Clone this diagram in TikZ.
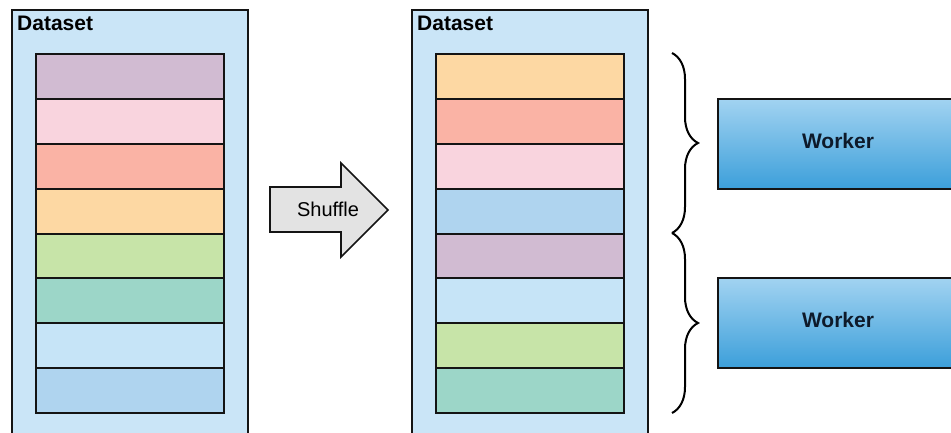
\documentclass[tikz,border=0pt]{standalone}
\usepackage{fontspec}
\setmainfont{Liberation Sans}
\usetikzlibrary{decorations.pathreplacing}
\definecolor{dsbg}{HTML}{CAE5F7}
\definecolor{cmauve}{HTML}{D1BBD2}
\definecolor{cpink}{HTML}{F9D4DE}
\definecolor{csalmon}{HTML}{FAB3A5}
\definecolor{cpeach}{HTML}{FDD8A3}
\definecolor{cgreen}{HTML}{C7E4A8}
\definecolor{cteal}{HTML}{9CD6C8}
\definecolor{cltblue}{HTML}{C6E4F7}
\definecolor{cblue}{HTML}{AFD4EF}
\definecolor{arrowgray}{HTML}{E3E3E3}
\definecolor{wtop}{HTML}{A2D3F1}
\definecolor{wbot}{HTML}{3C9FDA}
\definecolor{wtext}{HTML}{0E1A2A}
\definecolor{edge}{HTML}{141414}
\tikzset{
  dsbox/.style={draw=edge, line width=2pt, fill=dsbg, rectangle, inner sep=0pt,
    minimum width=236pt, minimum height=460pt, anchor=north west},
  dslabel/.style={font=\bfseries\fontsize{21}{24}\selectfont, anchor=base west, inner sep=0pt},
  stripe/.style={draw=edge, line width=2pt, rectangle, inner sep=0pt,
    minimum width=188pt, minimum height=44.875pt, anchor=north west},
  shufflebox/.style={draw=edge, line width=1.6pt, fill=arrowgray, line join=miter},
  shuffletext/.style={font=\fontsize{20}{23}\selectfont, inner sep=0pt},
  bracestyle/.style={draw=black, line width=2pt, decorate,
    decoration={brace, amplitude=26pt, aspect=0.5}},
  worker/.style={draw=edge, line width=1.6pt, rectangle, inner sep=0pt,
    top color=wtop, bottom color=wbot, minimum width=242pt, minimum height=90pt,
    anchor=north west},
  workertext/.style={text=wtext, font=\bfseries\fontsize{21}{24}\selectfont, inner sep=0pt}
}
\begin{document}
\begin{tikzpicture}[x=1pt,y=-1pt]
\useasboundingbox (0,0) rectangle (951,433);
\clip (0,0) rectangle (951,433);
\fill[white] (0,0) rectangle (951,433);
% left dataset
\node[dsbox] (ds1) at (11,9) {};
\node[dslabel] (ds1lab) at (17,31) {Dataset};
\foreach \c [count=\i from 0] in {cmauve,cpink,csalmon,cpeach,cgreen,cteal,cltblue,cblue}
  \node[stripe, fill=\c] (l\i) at (35,53+\i*44.875) {};
% right dataset
\node[dsbox] (ds2) at (411,9) {};
\node[dslabel] (ds2lab) at (417,31) {Dataset};
\foreach \c [count=\i from 0] in {cpeach,csalmon,cpink,cblue,cmauve,cltblue,cgreen,cteal}
  \node[stripe, fill=\c] (r\i) at (435,53+\i*44.875) {};
% shuffle arrow
\draw[shufflebox] (270,187) -- (341,187) -- (341,163) -- (388,210) -- (341,257) -- (341,232) -- (270,232) -- cycle;
\node[shuffletext] (shuffle) at (328,209) {Shuffle};
% braces
\coordinate (b1) at (672,53);
\coordinate (b2) at (672,233);
\coordinate (b3) at (672,413);
\draw[bracestyle] (b1) -- (b2);
\draw[bracestyle] (b2) -- (b3);
% workers
\node[worker] (w1) at (717,98) {};
\node[workertext] (w1t) at (838,141) {Worker};
\node[worker] (w2) at (717,277) {};
\node[workertext] (w2t) at (838,320) {Worker};
\end{tikzpicture}
\end{document}
